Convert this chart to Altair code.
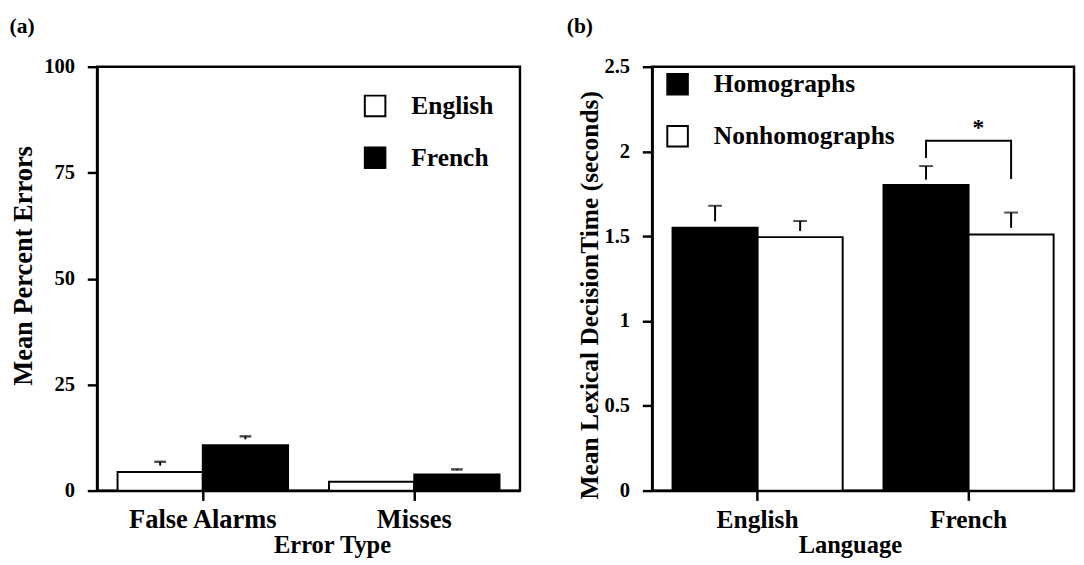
import altair as alt
import pandas as pd

# ---------------- Panel (a) data ----------------
error_types = ["False Alarms", "Misses"]
languages_a = ["English", "French"]
pct_english = [4.4, 2.1]
pct_french = [10.7, 3.8]
err_lo_english = [5.9, None]
err_hi_english = [6.8, None]
err_lo_french = [12.1, 4.8]
err_hi_french = [12.8, 5.0]

# ---------------- Panel (b) data ----------------
languages_b = ["English", "French"]
word_types = ["Homographs", "Nonhomographs"]
rt_homographs = [1.55, 1.803]
rt_nonhomographs = [1.495, 1.511]
err_lo_homographs = [1.588, 1.834]
err_hi_homographs = [1.68, 1.914]
err_lo_nonhomographs = [1.531, 1.55]
err_hi_nonhomographs = [1.59, 1.64]
bracket_language = "French"
bracket_words = ["Homographs", "Homographs", "Nonhomographs", "Nonhomographs"]
bracket_y = [1.962, 2.064, 2.064, 1.838]
star_y = 2.14

FONT = "Liberation Serif"
WA, WB, H = 432, 431, 433

rows_a = []
for i, et in enumerate(error_types):
    rows_a.append(dict(etype=et, lang="English", value=pct_english[i],
                       lo=err_lo_english[i], hi=err_hi_english[i]))
    rows_a.append(dict(etype=et, lang="French", value=pct_french[i],
                       lo=err_lo_french[i], hi=err_hi_french[i]))
df_a = pd.DataFrame(rows_a)
df_a_err = df_a.dropna()

rows_b = []
for i, lg in enumerate(languages_b):
    rows_b.append(dict(lang=lg, word="Homographs", value=rt_homographs[i],
                       lo=err_lo_homographs[i], hi=err_hi_homographs[i]))
    rows_b.append(dict(lang=lg, word="Nonhomographs", value=rt_nonhomographs[i],
                       lo=err_lo_nonhomographs[i], hi=err_hi_nonhomographs[i]))
df_b = pd.DataFrame(rows_b)
df_bracket = pd.DataFrame(dict(lang=[bracket_language] * 4, word=bracket_words,
                               y=bracket_y, order=list(range(4))))
df_star = pd.DataFrame(dict(lang=[bracket_language], y=[star_y], t=["*"]))

legend_common = dict(title=None, symbolType="square", symbolSize=441,
                     symbolStrokeColor="black", symbolStrokeWidth=2, labelFontSize=26,
                     labelOffset=24, rowPadding=23, padding=0, labelLimit=400)

# ---------------- Panel (a) ----------------
xa = alt.X("etype:N", sort=error_types, scale=alt.Scale(paddingInner=0, paddingOuter=0),
           axis=alt.Axis(title="Error Type", labelAngle=0, labelFontSize=27, titleX=240,
                         labelPadding=7, titlePadding=0, titleFontSize=25))
xoa = alt.XOffset("lang:N", sort=languages_a,
                  scale=alt.Scale(domain=languages_a, paddingInner=0, paddingOuter=0.24))
ya_scale = alt.Scale(domain=[0, 100], nice=False)
ya = alt.Y("value:Q", scale=ya_scale,
           axis=alt.Axis(title="Mean Percent Errors", values=[0, 25, 50, 75, 100],
                         titleFontSize=27, titleY=203, labelPadding=13, titlePadding=6))

bars_a = alt.Chart(df_a).mark_bar(stroke="black", strokeWidth=2).encode(
    x=xa, xOffset=xoa, y=ya,
    color=alt.Color("lang:N", sort=languages_a,
                    scale=alt.Scale(domain=languages_a, range=["white", "black"]),
                    legend=alt.Legend(orient="top-right", offset=27, **legend_common))
)
stems_a = alt.Chart(df_a_err).mark_rule(color="black", strokeWidth=2).encode(
    x=xa, xOffset=xoa, y=alt.Y("lo:Q", scale=ya_scale), y2="hi:Q")
caps_a = alt.Chart(df_a_err).mark_tick(color="black", size=12, thickness=2.5).encode(
    x=xa, xOffset=xoa, y=alt.Y("hi:Q", scale=ya_scale))

panel_a = alt.layer(bars_a, stems_a, caps_a).properties(
    width=WA, height=H,
    title=alt.TitleParams("(a)", anchor="start", dx=-1, fontSize=22,
                          font=FONT, fontWeight="bold", color="black", offset=18))

# ---------------- Panel (b) ----------------
xb = alt.X("lang:N", sort=languages_b, scale=alt.Scale(paddingInner=0, paddingOuter=0),
           axis=alt.Axis(title="Language", labelAngle=0, labelFontSize=26, titleX=202,
                         labelPadding=7, titlePadding=0, titleFontSize=25))
xob = alt.XOffset("word:N", sort=word_types,
                  scale=alt.Scale(domain=word_types, paddingInner=0, paddingOuter=0.24))
yb_scale = alt.Scale(domain=[0, 2.5], nice=False)
yb = alt.Y("value:Q", scale=yb_scale,
           axis=alt.Axis(title="Mean Lexical DecisionTime (seconds)",
                         values=[0, 0.5, 1, 1.5, 2, 2.5], format="~g",
                         titleFontSize=26, titleY=233, labelPadding=13, titlePadding=2))

bars_b = alt.Chart(df_b).mark_bar(stroke="black", strokeWidth=2).encode(
    x=xb, xOffset=xob, y=yb,
    color=alt.Color("word:N", sort=word_types,
                    scale=alt.Scale(domain=word_types, range=["black", "white"]),
                    legend=alt.Legend(orient="none", legendX=13, legendY=5, **legend_common))
)
stems_b = alt.Chart(df_b).mark_rule(color="black", strokeWidth=2).encode(
    x=xb, xOffset=xob, y=alt.Y("lo:Q", scale=yb_scale), y2="hi:Q")
caps_b = alt.Chart(df_b).mark_tick(color="black", size=14, thickness=2).encode(
    x=xb, xOffset=xob, y=alt.Y("hi:Q", scale=yb_scale))
bracket = alt.Chart(df_bracket).mark_line(color="black", strokeWidth=2).encode(
    x=alt.X("lang:N", sort=languages_b), xOffset=alt.XOffset("word:N", sort=word_types),
    y=alt.Y("y:Q", scale=yb_scale), order="order:Q")
star = alt.Chart(df_star).mark_text(font=FONT, fontSize=24, fontWeight="bold",
                                    color="black", baseline="middle", dx=10).encode(
    x=alt.X("lang:N", sort=languages_b), y=alt.Y("y:Q", scale=yb_scale), text="t:N")

panel_b = alt.layer(bars_b, stems_b, caps_b, bracket, star).properties(
    width=WB, height=H,
    title=alt.TitleParams("(b)", anchor="start", dx=-10, fontSize=22,
                          font=FONT, fontWeight="bold", color="black", offset=18))

chart = alt.hconcat(panel_a, panel_b, spacing=44).resolve_scale(
    color="independent", xOffset="independent"
).resolve_legend(
    color="independent"
).properties(
    padding={"left": 0, "top": 0, "right": 0, "bottom": 0}
).configure_view(
    stroke="black", strokeWidth=2.5
).configure_axis(
    grid=False, domainColor="black", domainWidth=2.5, tickColor="black", tickWidth=2.5,
    tickSize=10, labelColor="black", titleColor="black", labelFont=FONT, titleFont=FONT,
    labelFontWeight="bold", titleFontWeight="bold", labelFontSize=21, titleFontSize=26
).configure_legend(
    labelFont=FONT, labelFontWeight="bold", labelColor="black"
)

chart.save("out.html", embed_options={"renderer": "svg", "actions": False})
